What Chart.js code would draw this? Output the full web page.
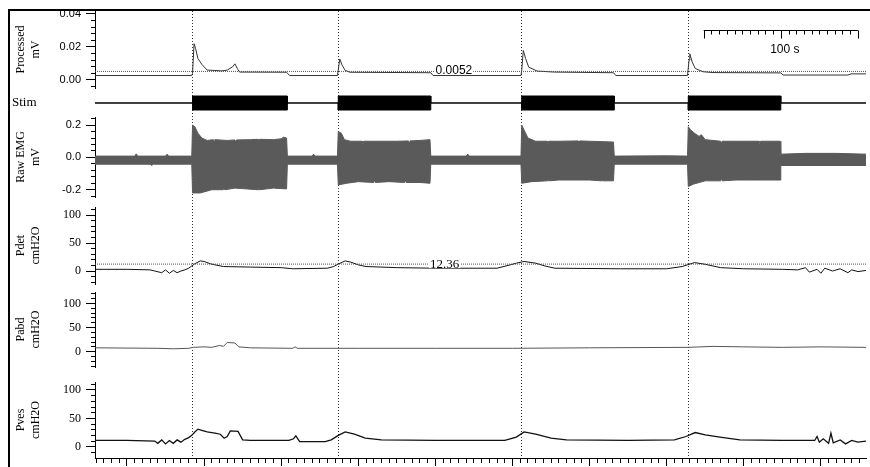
<!doctype html>
<html>
<head>
<title>EMG / urodynamics recording</title>
<script src="https://cdn.jsdelivr.net/npm/chart.js@4.4.1/dist/chart.umd.min.js"></script>
<style>
  body { margin: 0; background: #fff; }
  #wrap { position: relative; width: 870px; height: 467px; overflow: hidden; }
  #chart { position: absolute; left: 12px; top: 0; }
  #frame { position: absolute; left: 8px; top: 9px; width: 880px; height: 480px;
           border-left: 2px solid #000; border-top: 2px solid #000; pointer-events: none; }
</style>
</head>
<body>
<div id="wrap">
  <canvas id="chart" width="858" height="467"></canvas>
  <div id="frame"></div>
</div>
<script>
// time in seconds
var T_MIN = -41.5, T_MAX = 958.5;
var STIM_ON = [85, 274, 512, 728];
var STIM_OFF = [208, 394, 632, 848];

// Processed EMG, mV
var PROCESSED = [[-41.5, 0.0027], [84, 0.0027], [85, 0.004], [87, 0.022], [89, 0.019], [92, 0.013], [97, 0.0095],
  [104, 0.006], [113, 0.0058], [123, 0.0055], [130, 0.006], [137, 0.008], [140, 0.0098], [143, 0.007], [146, 0.0048],
  [207, 0.0047], [211, 0.0027], [273, 0.0027], [274, 0.006], [276, 0.0127], [279, 0.009], [283, 0.0058], [289, 0.0047],
  [394, 0.0044], [397, 0.0027], [511, 0.0027], [512, 0.006], [514, 0.0179], [517, 0.013], [521, 0.0078], [532, 0.0054],
  [554, 0.0048], [631, 0.0044], [634, 0.0027], [727, 0.0027], [729, 0.012], [730, 0.0159], [733, 0.011], [737, 0.007],
  [747, 0.005], [760, 0.0045], [848, 0.0043], [851, 0.003], [935, 0.003], [939, 0.0037], [958.5, 0.0037]];
var PROC_THRESHOLD = 0.0052;

// Raw EMG envelope, mV
var EMG_UPPER = [[-41.5, 0.008], [10, 0.008], [12, 0.022], [14, 0.008], [50, 0.008], [52, 0.02], [54, 0.008], [84, 0.008],
  [85, 0.20], [88, 0.19], [92, 0.15], [97, 0.12], [104, 0.105], [112, 0.11], [113, 0.095], [114, 0.11], [130, 0.105],
  [140, 0.108], [141, 0.094], [142, 0.108], [160, 0.11], [170, 0.112], [171, 0.098], [172, 0.112], [190, 0.11],
  [200, 0.115], [203, 0.125], [207, 0.12], [208, 0.008], [240, 0.008], [242, 0.02], [244, 0.008], [273, 0.008],
  [274, 0.16], [278, 0.15], [282, 0.11], [290, 0.1], [305, 0.1], [306, 0.088], [307, 0.1], [320, 0.1], [350, 0.1],
  [365, 0.102], [366, 0.088], [367, 0.102], [380, 0.105], [393, 0.11],
  [394, 0.008], [440, 0.008], [442, 0.02], [444, 0.008], [511, 0.008],
  [512, 0.2], [515, 0.17], [520, 0.12], [530, 0.1], [545, 0.1], [546, 0.088], [547, 0.1], [560, 0.1], [585, 0.102],
  [586, 0.09], [587, 0.102], [600, 0.1], [631, 0.095],
  [632, 0.008], [700, 0.01], [727, 0.008],
  [728, 0.19], [731, 0.17], [736, 0.15], [742, 0.13], [745, 0.14], [750, 0.11], [770, 0.1], [771, 0.088],
  [772, 0.1], [800, 0.1], [820, 0.1], [821, 0.088], [822, 0.1], [847, 0.1],
  [848, 0.02], [880, 0.025], [920, 0.025], [958.5, 0.02]];
var EMG_LOWER = [[-41.5, -0.042], [30, -0.042], [32, -0.05], [34, -0.042], [84, -0.042],
  [85, -0.22], [95, -0.22], [110, -0.2], [125, -0.2], [126, -0.185], [127, -0.2], [140, -0.19], [170, -0.2],
  [171, -0.185], [172, -0.2], [190, -0.19], [207, -0.195],
  [208, -0.042], [273, -0.042],
  [274, -0.17], [285, -0.16], [300, -0.15], [320, -0.155], [321, -0.14], [322, -0.155], [340, -0.15],
  [360, -0.155], [361, -0.14], [362, -0.155], [380, -0.155], [393, -0.16],
  [394, -0.042], [511, -0.042],
  [512, -0.16], [525, -0.15], [545, -0.145], [546, -0.13], [547, -0.145], [560, -0.14], [600, -0.14],
  [615, -0.145], [616, -0.13], [617, -0.145], [631, -0.145],
  [632, -0.042], [727, -0.042],
  [728, -0.18], [735, -0.165], [750, -0.145], [770, -0.145], [771, -0.13], [772, -0.145], [790, -0.14],
  [820, -0.14], [847, -0.14],
  [848, -0.05], [958.5, -0.05]];

// pressures, cmH2O
var PDET = [[-41.5, 3], [0, 3], [30, 2], [36, 0], [45, -3], [50, 2], [55, -4], [60, 1], [65, -3], [70, 0], [75, 2],
  [80, 5], [84, 9], [88, 13], [95, 18], [100, 17], [108, 13], [114, 11], [125, 8], [160, 7], [200, 6], [215, 4],
  [260, 5], [268, 8], [275, 13], [283, 18], [290, 16], [300, 11], [310, 8], [350, 6], [400, 5], [480, 5], [497, 11],
  [505, 14], [515, 17], [530, 14], [542, 9], [555, 5], [640, 4], [700, 4], [720, 8], [736, 15], [750, 12], [770, 6],
  [800, 4], [850, 3], [870, 2], [880, 6], [885, -2], [895, 3], [900, -4], [905, 5], [915, 0], [925, 4], [935, -3],
  [940, 2], [948, -1], [958.5, 1]];
var PDET_THRESHOLD = 12.36;
var PABD = [[-41.5, 8], [40, 7], [60, 6], [80, 7], [86, 9], [100, 10], [110, 9], [120, 13], [125, 11], [130, 19],
  [140, 18], [145, 10], [160, 8], [215, 7], [218, 10], [221, 7], [300, 7], [400, 7], [500, 7], [600, 8], [728, 9],
  [760, 11], [800, 10], [850, 9], [900, 10], [958.5, 9]];
var PVES = [[-41.5, 11], [0, 11], [36, 10], [40, 6], [45, 12], [50, 5], [55, 11], [60, 6], [65, 12], [70, 8], [75, 13],
  [80, 16], [84, 20], [88, 26], [92, 31], [97, 29], [104, 26], [114, 24], [121, 22], [126, 15], [130, 18], [134, 28],
  [144, 27], [150, 12], [160, 11], [210, 11], [216, 14], [219, 19], [222, 13], [224, 9], [257, 9], [265, 12], [274, 20],
  [283, 26], [295, 22], [309, 15], [330, 12], [400, 11], [490, 11], [505, 17], [515, 26], [530, 22], [550, 15],
  [570, 12], [650, 11], [710, 12], [725, 18], [737, 25], [750, 21], [769, 17], [795, 12], [850, 11], [892, 11],
  [895, 18], [898, 8], [903, 14], [910, 6], [913, 24], [916, 7], [925, 12], [932, 5], [940, 11], [948, 8], [958.5, 10]];

// tick labels
var PROC_MAJOR = [0, 0.02, 0.04], PROC_LABELS = ['0.00', '0.02', '0.04'];
var EMG_MAJOR = [-0.2, 0, 0.2], EMG_LABELS = ['-0.2', '0.0', '0.2'];
var PRESS_MAJOR = [0, 50, 100], PRESS_LABELS = ['0', '50', '100'];
var TIME_MAJOR_STEP = 100;

var AXIS_W = 83;
var SANS = 'Liberation Sans, Arial, sans-serif';
var SERIF = 'Liberation Serif, Times New Roman, serif';

function xy(pairs) {
  return pairs.map(function(p) { return {x: p[0], y: p[1]}; });
}
function steps(from, to, step) {
  var out = [];
  for (var i = 0; ; i++) {
    var v = +(from + i * step).toFixed(6);
    if (v > to + 1e-9) break;
    out.push(v);
  }
  return out;
}
function findMajor(list, v) {
  for (var i = 0; i < list.length; i++) if (Math.abs(list[i] - v) < 1e-9) return i;
  return -1;
}
// fixed column width, and no extra room asked for half-labels at the ends
function fitColumn(s) {
  s.width = AXIS_W;
  s.paddingTop = 0;
  s.paddingBottom = 0;
}

// stim trace: thin line, thick bar while stimulating
var STIM_BASE = 0.483, STIM_HI = 0.724, STIM_LO = 0.241;
function stimEdge(level) {
  var pts = [{x: T_MIN, y: STIM_BASE}];
  for (var i = 0; i < STIM_ON.length; i++) {
    pts.push({x: STIM_ON[i], y: STIM_BASE}, {x: STIM_ON[i], y: level},
             {x: STIM_OFF[i], y: level}, {x: STIM_OFF[i], y: STIM_BASE});
  }
  pts.push({x: T_MAX, y: STIM_BASE});
  return pts;
}
function flat(v) { return [{x: T_MIN, y: v}, {x: T_MAX, y: v}]; }

function panelAxis(o) {
  return {
    type: 'linear', position: 'left', stack: 'panels', stackWeight: o.weight,
    min: o.min, max: o.max,
    afterFit: fitColumn,
    afterBuildTicks: function(s) {
      s.ticks = steps(o.from, o.to, o.step).map(function(v) { return {value: v}; });
    },
    border: {display: true, color: '#000', width: 1},
    grid: {
      drawOnChartArea: false, tickLength: 9, tickColor: '#000', tickWidth: 1,
      tickBorderDash: function(c) { return findMajor(o.major, c.tick.value) >= 0 ? [] : [0, 5, 20]; }
    },
    ticks: {
      autoSkip: false, padding: 5, color: '#000', font: o.font,
      callback: function(v) { var k = findMajor(o.major, v); return k >= 0 ? o.labels[k] : ''; }
    },
    title: {display: true, text: o.title, color: '#000', font: {family: SERIF, size: 12},
            padding: {top: 2, bottom: 0}}
  };
}
function spacer(w) {
  return {
    type: 'linear', position: 'left', stack: 'panels', stackWeight: w, min: 0, max: 1,
    afterFit: fitColumn,
    border: {display: false}, grid: {display: false}, ticks: {display: false}
  };
}

var THRESHOLD_LABELS = [
  {axis: 'proc', value: PROC_THRESHOLD, t: 424, text: '0.0052', font: '12px ' + SANS, dy: -1},
  {axis: 'pdet', value: PDET_THRESHOLD, t: 412, text: '12.36', font: '13px ' + SERIF, dy: 0}
];
var SCALEBAR_T = 748, SCALEBAR_LEN = 100;

var thresholdLabels = {
  id: 'thresholdLabels',
  afterDatasetsDraw: function(chart) {
    var ctx = chart.ctx, xs = chart.scales.x;
    ctx.save();
    THRESHOLD_LABELS.forEach(function(th) {
      var x = xs.getPixelForValue(th.t), y = chart.scales[th.axis].getPixelForValue(th.value) + th.dy;
      ctx.font = th.font;
      var w = ctx.measureText(th.text).width;
      ctx.fillStyle = '#fff';
      ctx.fillRect(x - w / 2 - 1, y - 6, w + 2, 10);
      ctx.fillStyle = '#000';
      ctx.textAlign = 'center';
      ctx.textBaseline = 'middle';
      ctx.fillText(th.text, x, y);
    });
    ctx.restore();
  }
};

var scaleBar = {
  id: 'scaleBar',
  afterDatasetsDraw: function(chart) {
    var ctx = chart.ctx, xs = chart.scales.x;
    var y = chart.chartArea.top + 19.5;
    var x0 = xs.getPixelForValue(SCALEBAR_T), x1 = xs.getPixelForValue(SCALEBAR_T + 2 * SCALEBAR_LEN);
    ctx.save();
    ctx.strokeStyle = '#000';
    ctx.lineWidth = 1;
    ctx.beginPath();
    ctx.moveTo(x0, y);
    ctx.lineTo(x1, y);
    for (var t = 0; t <= 2 * SCALEBAR_LEN; t += 10) {
      var x = Math.round(xs.getPixelForValue(SCALEBAR_T + t)) + 0.5;
      ctx.moveTo(x, y);
      ctx.lineTo(x, y + (t % SCALEBAR_LEN === 0 ? 8 : 4));
    }
    ctx.stroke();
    ctx.fillStyle = '#000';
    ctx.font = '12px ' + SANS;
    ctx.textAlign = 'center';
    ctx.textBaseline = 'middle';
    ctx.fillText(SCALEBAR_LEN + ' s', xs.getPixelForValue(SCALEBAR_T + SCALEBAR_LEN) + 4, y + 19);
    ctx.restore();
  }
};

function line(data, axis, color, width, extra) {
  var ds = {data: xy(data), yAxisID: axis, xAxisID: 'x', borderColor: color, borderWidth: width,
            pointRadius: 0, tension: 0, fill: false};
  return Object.assign(ds, extra || {});
}

var config = {
  type: 'line',
  data: {
    datasets: [
      {data: flat(PROC_THRESHOLD), yAxisID: 'proc', xAxisID: 'x', borderColor: '#555', borderWidth: 1,
       borderDash: [1, 1], pointRadius: 0, fill: false},
      line(PROCESSED, 'proc', '#333', 1),
      {data: stimEdge(STIM_HI), yAxisID: 'stim', xAxisID: 'x', borderColor: '#000', borderWidth: 1,
       pointRadius: 0, fill: false},
      {data: stimEdge(STIM_LO), yAxisID: 'stim', xAxisID: 'x', borderColor: '#000', borderWidth: 1,
       pointRadius: 0, fill: '-1', backgroundColor: '#000'},
      line(EMG_UPPER, 'emg', '#5a5a5a', 1),
      line(EMG_LOWER, 'emg', '#5a5a5a', 1, {fill: '-1', backgroundColor: '#5a5a5a'}),
      {data: flat(PDET_THRESHOLD), yAxisID: 'pdet', xAxisID: 'x', borderColor: '#555', borderWidth: 1,
       borderDash: [1, 1], pointRadius: 0, fill: false},
      line(PDET, 'pdet', '#111', 1),
      line(PABD, 'pabd', '#555', 1),
      line(PVES, 'pves', '#111', 1.3)
    ]
  },
  options: {
    responsive: false,
    animation: false,
    devicePixelRatio: 1,
    layout: {padding: {left: 0, top: 11, right: 4, bottom: 1}},
    plugins: {legend: {display: false}, tooltip: {enabled: false}},
    scales: {
      x: {
        type: 'linear', position: 'bottom', min: T_MIN, max: T_MAX,
        afterBuildTicks: function(s) {
          s.ticks = steps(-40, 950, 10).map(function(v) { return {value: v}; });
        },
        afterFit: function(s) { s.height = 8; s.paddingLeft = 0; s.paddingRight = 0; },
        border: {display: true, color: '#000', width: 1},
        grid: {
          drawOnChartArea: false, tickLength: 8, tickColor: '#000',
          tickBorderDash: function(c) { return c.tick.value % TIME_MAJOR_STEP === 0 ? [] : [4, 20]; }
        },
        ticks: {display: false, autoSkip: false}
      },
      xs: {
        type: 'linear', position: 'top', min: T_MIN, max: T_MAX,
        afterBuildTicks: function(s) { s.ticks = STIM_ON.map(function(v) { return {value: v}; }); },
        afterFit: function(s) { s.height = 0; },
        border: {display: false, dash: [1, 2]},
        grid: {drawOnChartArea: true, drawTicks: false, color: '#333', lineWidth: 1},
        ticks: {display: false}
      },
      // stacked panels are laid out bottom-up
      pves: panelAxis({weight: 76, min: -19.9, max: 114.1, from: -10, to: 110, step: 10,
        major: PRESS_MAJOR, labels: PRESS_LABELS, font: {family: SERIF, size: 12}, title: ['Pves', 'cmH2O']}),
      sp3: spacer(15),
      pabd: panelAxis({weight: 75, min: -31.7, max: 123.6, from: -30, to: 120, step: 10,
        major: PRESS_MAJOR, labels: PRESS_LABELS, font: {family: SERIF, size: 12}, title: ['Pabd', 'cmH2O']}),
      sp2: spacer(8),
      pdet: panelAxis({weight: 77, min: -23.2, max: 114.3, from: -20, to: 110, step: 10,
        major: PRESS_MAJOR, labels: PRESS_LABELS, font: {family: SERIF, size: 12}, title: ['Pdet', 'cmH2O']}),
      sp1: spacer(10),
      emg: panelAxis({weight: 80, min: -0.245, max: 0.25, from: -0.24, to: 0.24, step: 0.04,
        major: EMG_MAJOR, labels: EMG_LABELS, font: {family: SANS, size: 11}, title: ['Raw EMG', 'mV']}),
      stim: {
        type: 'linear', position: 'left', stack: 'panels', stackWeight: 29, min: 0, max: 1,
        afterFit: fitColumn,
        afterBuildTicks: function(s) { s.ticks = [{value: STIM_BASE}]; },
        border: {display: false}, grid: {display: false},
        ticks: {crossAlign: 'far', autoSkip: false, color: '#000', font: {family: SERIF, size: 13},
                callback: function() { return 'Stim'; }}
      },
      proc: panelAxis({weight: 77, min: -0.00485, max: 0.0418, from: -0.004, to: 0.04, step: 0.004,
        major: PROC_MAJOR, labels: PROC_LABELS, font: {family: SANS, size: 11}, title: ['Processed', 'mV']})
    }
  },
  plugins: [thresholdLabels, scaleBar]
};

window.onload = function() {
  var ctx = document.getElementById('chart').getContext('2d');
  window.myChart = new Chart(ctx, config);
};
</script>
</body>
</html>
